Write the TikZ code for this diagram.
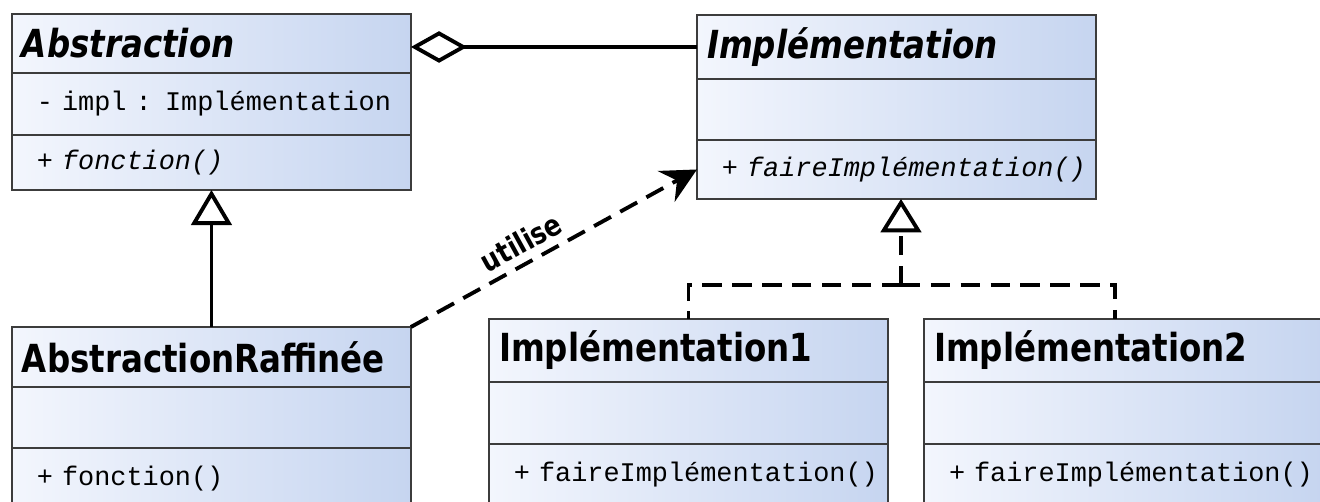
\documentclass[tikz,border=0pt]{standalone}
\usepackage{fontspec}
\newfontfamily\headfont{DejaVu Sans}[FakeStretch=0.84]
\newfontfamily\monofont{Liberation Mono}
\usetikzlibrary{arrows.meta,positioning}
\definecolor{umlLight}{RGB}{243,246,253}
\definecolor{umlBlue}{RGB}{198,213,240}
\definecolor{umlBorder}{RGB}{60,60,60}
\tikzset{
  compart/.style={draw=umlBorder, line width=1.1pt, outer sep=0pt, inner xsep=0.2cm, inner ysep=0pt,
    left color=umlLight, right color=umlBlue, text width=7.58cm, align=left, minimum height=1.22cm},
  classhead/.style={compart, font=\headfont\fontsize{22}{25}\selectfont\bfseries, anchor=north west},
  member/.style={compart, font=\monofont\fontsize{15.3}{17}\selectfont},
  link/.style={line width=2.2pt},
  dashlink/.style={link, dash pattern=on 11pt off 6pt},
}
\begin{document}
\begin{tikzpicture}[x=0.02cm, y=-0.02cm, >={Stealth[length=20pt,width=20pt,inset=7pt]}]
  \path[use as bounding box, clip] (0,0) rectangle (1320,502);
  % abstraction side
  \node[classhead, minimum height=1.18cm] (absHead) at (12,14) {\itshape Abstraction};
  \node[member, below=0pt of absHead, minimum height=1.24cm] (absAttr) {\hspace*{.3cm}- impl : Implémentation};
  \node[member, below=0pt of absAttr, minimum height=1.1cm] (absOps) {\hspace*{.3cm}\itshape + fonction()};
  \node[classhead, minimum height=1.2cm] (raffHead) at (12,327) {AbstractionRaffinée};
  \node[member, below=0pt of raffHead] (raffAttr) {};
  \node[member, below=0pt of raffAttr] (raffOps) {\hspace*{.3cm}+ fonction()};
  % implementation side
  \node[classhead, minimum height=1.28cm] (implHead) at (697,15) {\itshape Implémentation};
  \node[member, below=0pt of implHead] (implAttr) {};
  \node[member, below=0pt of implAttr, minimum height=1.18cm] (implOps) {\hspace*{.3cm}\itshape + faireImplémentation()};
  \node[classhead, minimum height=1.26cm] (impl1Head) at (489,319) {Implémentation1};
  \node[member, below=0pt of impl1Head, minimum height=1.24cm] (impl1Attr) {};
  \node[member, below=0pt of impl1Attr] (impl1Ops) {\hspace*{.3cm}+ faireImplémentation()};
  \node[classhead, minimum height=1.26cm] (impl2Head) at (924,319) {Implémentation2};
  \node[member, below=0pt of impl2Head, minimum height=1.24cm] (impl2Attr) {};
  \node[member, below=0pt of impl2Attr] (impl2Ops) {\hspace*{.3cm}+ faireImplémentation()};
  % links
  \draw[link, -{Diamond[open, length=32pt, width=18pt]}] (implHead.west) -- (implHead.west -| absHead.east);
  \draw[link, -{Triangle[open, length=20pt, width=23pt]}] (raffHead.north) -- (absOps.south);
  \draw[dashlink, ->] (raffHead.north east) -- node[pos=0.42, sloped, above=1pt, font=\headfont\fontsize{17}{19}\selectfont\bfseries] (useLabel) {utilise} (implOps.west);
  \coordinate (fork) at (901,285);
  \draw[dashlink, -{Triangle[open, length=19pt, width=23pt]}] (fork) -- (implOps.south -| fork);
  \draw[dashlink] (fork) -| (impl1Head.north);
  \draw[dashlink] (fork) -| ([xshift=3.82cm]impl2Head.north west);
\end{tikzpicture}
\end{document}
